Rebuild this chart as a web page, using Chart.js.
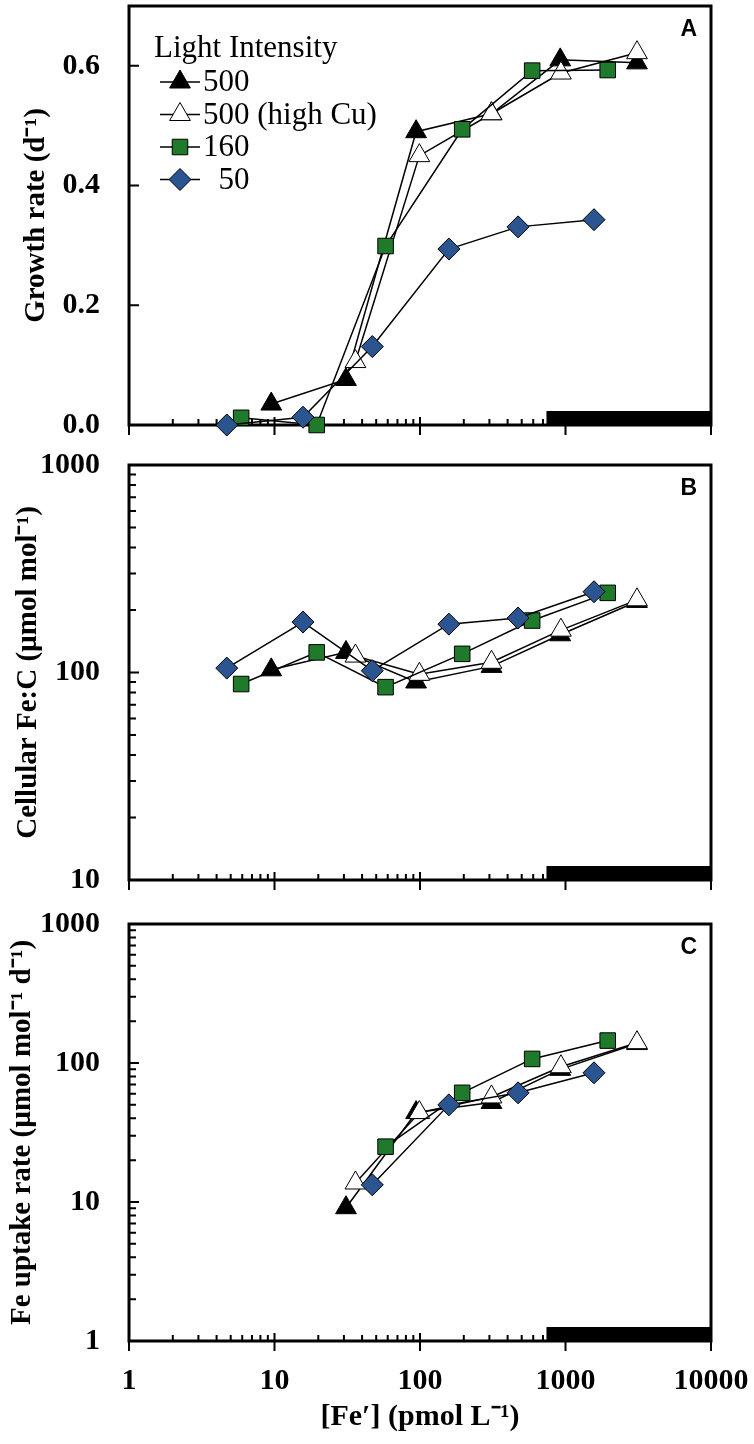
<!DOCTYPE html>
<html>
  <head>
    <meta charset="utf-8" />
    <title>Fe' vs growth, Fe:C and Fe uptake</title>
    <script src="https://cdn.jsdelivr.net/npm/chart.js"></script>
    <style>
      body { margin: 0; background: #fff; }
      #wrap { position: relative; width: 754px; height: 1444px; }
      canvas { position: absolute; left: 0; }
    </style>
  </head>
  <body>
    <div id="wrap">
      <canvas id="chartA" width="754" height="465" style="top: 0px"></canvas>
      <canvas id="chartB" width="754" height="465" style="top: 445px"></canvas>
      <canvas id="chartC" width="754" height="554" style="top: 890px"></canvas>
    </div>

    <script>
      // legend
      const legendTitle = "Light Intensity";
      const seriesLabels = ["500", "500 (high Cu)", "160", "  50"];

      // [Fe'] (pmol/L) per series
      const fe500 = [9.5, 31, 94, 310, 920, 3100];
      const fe500Cu = [36, 99, 310, 930, 3100];
      const fe160 = [5.9, 19.5, 58, 195, 590, 1950];
      const fe50 = [4.7, 15.7, 47, 158, 472, 1570];

      // panel A: growth rate (d-1)
      const growth500 = [0.035, 0.076, 0.49, 0.52, 0.61, 0.605];
      const growth500Cu = [0.106, 0.45, 0.52, 0.588, 0.622];
      const growth160 = [0.012, 0.0, 0.299, 0.494, 0.592, 0.593];
      const growth50 = [0.0, 0.013, 0.131, 0.294, 0.331, 0.343];

      // panel B: cellular Fe:C (umol/mol)
      const feC500 = [103, 125, 90, 107, 152, 220];
      const feC500Cu = [120, 98, 112, 160, 224];
      const feC160 = [88, 125, 85, 123, 178, 242];
      const feC50 = [105, 175, 102, 171, 183, 245];

      // panel C: Fe uptake rate (umol/mol/d)
      const uptake500 = [null, 9.1, 44, 52, 90, 138];
      const uptake500Cu = [13.7, 44, 57, 94, 140];
      const uptake160 = [null, null, 25, 61, 107, 145];
      const uptake50 = [null, null, 13.3, 50, 61, 85];

      // black bar on the x axis ([Fe'] range)
      const barRange = [740, 10000];

      const serif = '"Liberation Serif", "Times New Roman", serif';

      const markers = [
        { pointStyle: "triangle", pointRadius: 12, bg: "#000000", order: 4 },
        { pointStyle: "triangle", pointRadius: 12, bg: "#ffffff", order: 3 },
        { pointStyle: "rect", pointRadius: 11, bg: "#1f7a2b", order: 2 },
        { pointStyle: "rectRot", pointRadius: 11, bg: "#2b5590", order: 1 },
      ];

      function isDecade(v) {
        const l = Math.log10(v);
        return Math.abs(l - Math.round(l)) < 1e-9;
      }

      function logTickValues(min, max) {
        const out = [];
        const e0 = Math.round(Math.log10(min));
        const e1 = Math.round(Math.log10(max));
        for (let e = e0; e <= e1; e++) {
          for (let m = 1; m <= 9; m++) {
            const v = m * Math.pow(10, e);
            if (v <= max * 1.0001) out.push({ v: v, major: m === 1 });
          }
        }
        return out;
      }

      function makeDatasets(xs, ys) {
        return xs.map(function (fe, s) {
          const mk = markers[s];
          return {
            label: seriesLabels[s],
            data: fe.map(function (x, i) { return { x: x, y: ys[s][i] }; }),
            borderColor: "#000",
            borderWidth: 1.5,
            pointStyle: mk.pointStyle,
            pointRadius: mk.pointRadius,
            pointBackgroundColor: mk.bg,
            pointBorderColor: "#000",
            pointBorderWidth: 1,
            order: mk.order,
            spanGaps: true,
            clip: false,
          };
        });
      }

      const panelDeco = {
        id: "panelDeco",
        beforeDatasetsDraw(chart, args, opts) {
          const ctx = chart.ctx;
          const a = chart.chartArea;
          const xs = chart.scales.x;
          const ys = chart.scales.y;
          ctx.save();
          const b0 = xs.getPixelForValue(opts.bar[0]);
          const b1 = xs.getPixelForValue(opts.bar[1]);
          ctx.fillStyle = "#000";
          ctx.fillRect(b0, a.bottom - 14, b1 - b0, 14);

          ctx.strokeStyle = "#000";
          ctx.lineWidth = 2;
          ctx.beginPath();
          logTickValues(xs.min, xs.max).forEach(function (t) {
            const px = xs.getPixelForValue(t.v);
            if (t.major) {
              ctx.moveTo(px, a.bottom - 8);
              ctx.lineTo(px, a.bottom + 10);
            } else {
              ctx.moveTo(px, a.bottom);
              ctx.lineTo(px, a.bottom - 6);
            }
          });
          const yt =
            ys.type === "logarithmic"
              ? logTickValues(ys.min, ys.max)
              : ys.ticks.map(function (t) { return { v: t.value, major: true }; });
          yt.forEach(function (t) {
            const py = ys.getPixelForValue(t.v);
            ctx.moveTo(a.left, py);
            ctx.lineTo(a.left + (t.major ? 10 : 7), py);
          });
          ctx.stroke();

          ctx.lineWidth = 3;
          ctx.strokeRect(a.left, a.top, a.right - a.left, a.bottom - a.top);
          ctx.restore();
        },
        afterDraw(chart, args, opts) {
          const ctx = chart.ctx;
          const a = chart.chartArea;
          ctx.save();
          ctx.fillStyle = "#000";
          ctx.font = 'bold 23px "Liberation Sans", Arial, sans-serif';
          ctx.textAlign = "right";
          ctx.textBaseline = "alphabetic";
          ctx.fillText(opts.letter, a.right - 14, a.top + 30);

          if (opts.legend) {
            ctx.textAlign = "left";
            ctx.font = "31px " + serif;
            ctx.fillText(legendTitle, a.left + 25, 57);
            chart.data.datasets.forEach(function (ds, i) {
              const yy = 82 + i * 32.5;
              ctx.strokeStyle = "#000";
              ctx.lineWidth = 1.5;
              ctx.beginPath();
              ctx.moveTo(a.left + 31, yy);
              ctx.lineTo(a.left + 71, yy);
              ctx.stroke();
              ctx.fillStyle = ds.pointBackgroundColor;
              ctx.lineWidth = 1;
              Chart.helpers.drawPoint(
                ctx,
                { pointStyle: ds.pointStyle, radius: ds.pointRadius, rotation: 0, borderWidth: 1 },
                a.left + 51,
                yy
              );
              ctx.fillStyle = "#000";
              ctx.textBaseline = "middle";
              ctx.fillText(ds.label, a.left + 74, yy + 1);
            });
          }
          ctx.restore();
        },
      };

      function panel(canvasId, cfg) {
        const tickFont = { family: serif, size: 30, weight: "bold" };
        return new Chart(document.getElementById(canvasId), {
          type: "line",
          data: { datasets: cfg.datasets },
          plugins: [panelDeco],
          options: {
            responsive: false,
            maintainAspectRatio: false,
            animation: false,
            events: [],
            layout: { autoPadding: false, padding: { top: cfg.padTop, right: 43, left: 0, bottom: 0 } },
            plugins: {
              legend: { display: false },
              tooltip: { enabled: false },
              panelDeco: { letter: cfg.letter, bar: barRange, legend: !!cfg.legend },
            },
            scales: {
              x: {
                type: "logarithmic",
                min: 1,
                max: 10000,
                grid: { display: false, drawTicks: false },
                border: { display: false },
                ticks: {
                  display: !!cfg.xLabels,
                  autoSkip: false,
                  maxRotation: 0,
                  padding: 22,
                  color: "#000",
                  font: tickFont,
                  callback: function (v) { return isDecade(v) ? String(v) : null; },
                },
                title: {
                  display: !!cfg.xLabels,
                  text: "[Fe\u2032] (pmol L\u207B\u00B9)",
                  color: "#000",
                  font: { family: serif, size: 30, weight: "bold" },
                  padding: { top: 0, bottom: 9 },
                },
                afterFit: function (s) {
                  s.height = cfg.xHeight;
                  s.paddingLeft = 0;
                  s.paddingRight = 0;
                },
              },
              y: cfg.y,
            },
          },
        });
      }

      function yTitle(text, pad) {
        return {
          display: true,
          text: text,
          color: "#000",
          font: { family: serif, size: 29, weight: "bold" },
          padding: { top: pad, bottom: 0 },
        };
      }

      function fitY(s) {
        s.width = 129;
        s.paddingTop = 0;
        s.paddingBottom = 0;
      }

      function logY(min, max, title, pad) {
        return {
          type: "logarithmic",
          min: min,
          max: max,
          grid: { display: false, drawTicks: false },
          border: { display: false },
          ticks: {
            autoSkip: false,
            padding: 29,
            color: "#000",
            font: { family: serif, size: 30, weight: "bold" },
            callback: function (v) { return isDecade(v) ? String(v) : null; },
          },
          title: yTitle(title, pad),
          afterFit: fitY,
        };
      }

      panel("chartA", {
        letter: "A",
        legend: true,
        padTop: 6,
        xHeight: 40,
        datasets: makeDatasets(
          [fe500, fe500Cu, fe160, fe50],
          [growth500, growth500Cu, growth160, growth50]
        ),
        y: {
          type: "linear",
          min: 0,
          max: 0.7,
          grid: { display: false, drawTicks: false },
          border: { display: false },
          ticks: {
            stepSize: 0.1,
            autoSkip: false,
            padding: 29,
            color: "#000",
            font: { family: serif, size: 30, weight: "bold" },
            callback: function (v) {
              const k = Math.round(v * 10);
              return k % 2 === 0 && k < 7 ? (k / 10).toFixed(1) : null;
            },
          },
          title: yTitle("Growth rate (d\u207B\u00B9)", 19),
          afterFit: fitY,
        },
      });

      panel("chartB", {
        letter: "B",
        padTop: 20,
        xHeight: 30,
        datasets: makeDatasets(
          [fe500, fe500Cu, fe160, fe50],
          [feC500, feC500Cu, feC160, feC50]
        ),
        y: logY(10, 1000, "Cellular Fe:C (\u00B5mol mol\u207B\u00B9)", 11),
      });

      panel("chartC", {
        letter: "C",
        padTop: 34,
        xHeight: 103,
        xLabels: true,
        datasets: makeDatasets(
          [fe500, fe500Cu, fe160, fe50],
          [uptake500, uptake500Cu, uptake160, uptake50]
        ),
        y: logY(1, 1000, "Fe uptake rate (\u00B5mol mol\u207B\u00B9 d\u207B\u00B9)", 5),
      });
    </script>
  </body>
</html>
